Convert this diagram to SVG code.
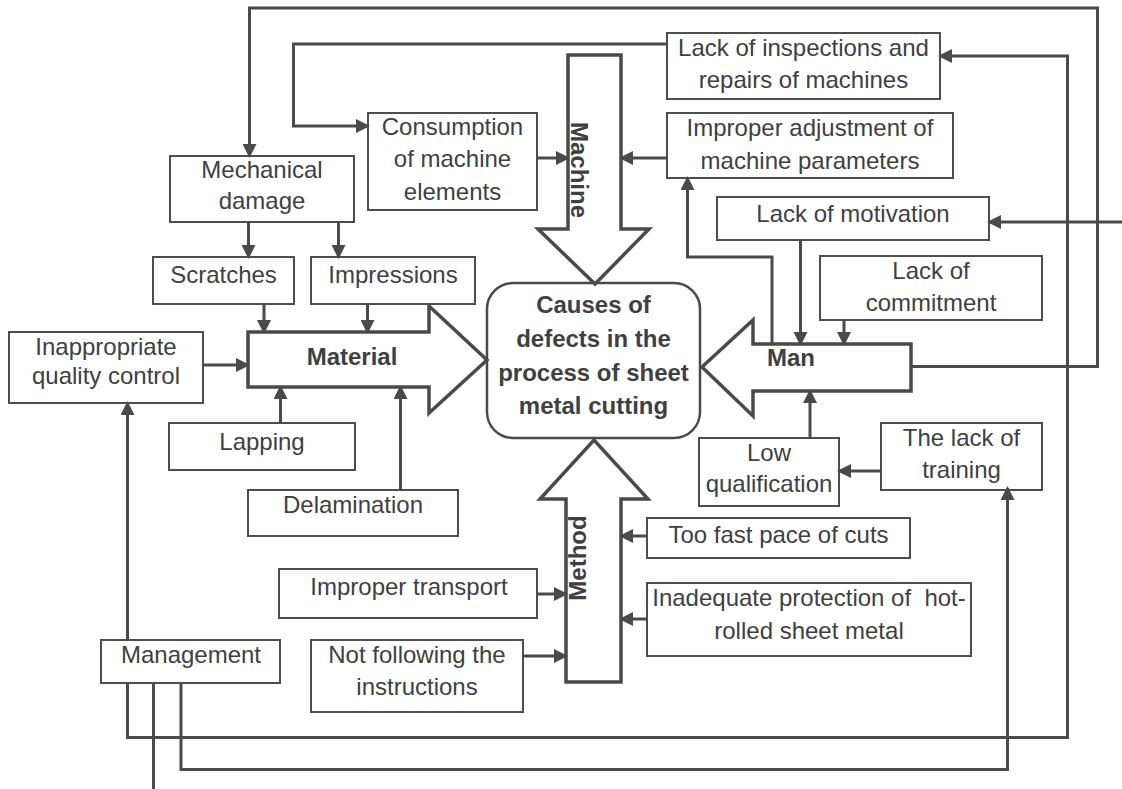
<svg xmlns="http://www.w3.org/2000/svg" width="1122" height="789" viewBox="0 0 1122 789">
<style>
.box{fill:#fff;stroke:#4d4d4d;stroke-width:2}
.big{fill:#fff;stroke:#4a4a4a;stroke-width:3.5;stroke-linejoin:miter}
.t{font-family:"Liberation Sans",Arial,sans-serif;font-size:24px;fill:#404040;text-anchor:middle}
.b{font-weight:bold}
.c{fill:none;stroke:#4a4a4a;stroke-width:3}
.ca{fill:none;stroke:#4a4a4a;stroke-width:3;marker-end:url(#ah)}
</style>
<defs>
<marker id="ah" viewBox="0 0 14 14" refX="12" refY="7" markerWidth="14" markerHeight="14" markerUnits="userSpaceOnUse" orient="auto"><path d="M0,0 L14,7 L0,14 z" fill="#4a4a4a"/></marker>
</defs>
<rect width="1122" height="789" fill="#fff"/>

<g id="center">
<rect x="487" y="283" width="213" height="155" rx="26" fill="#fff" stroke="#4a4a4a" stroke-width="2.5"/>
<text class="t b" x="593.5" y="313">Causes of</text>
<text class="t b" x="593.5" y="347">defects in the</text>
<text class="t b" x="593.5" y="380.5">process of sheet</text>
<text class="t b" x="593.5" y="414">metal cutting</text>
</g>

<g id="machine">
<polygon class="big" points="568,55 621,55 621,229 649,229 595,284 538,229 568,229"/>
<text class="t b" transform="translate(571,170) rotate(90)">Machine</text>
</g>
<g id="material">
<polygon class="big" points="248,332 429,332 429,306 487,360 429,413 429,387 248,387"/>
<text class="t b" x="352" y="365">Material</text>
</g>
<g id="man">
<polygon class="big" points="911,344 753,344 753,320 702,367 753,416 753,391 911,391"/>
<text class="t b" x="791" y="366">Man</text>
</g>
<g id="method">
<polygon class="big" points="566,682 566,499 540,499 594,440 648,499 621,499 621,682"/>
<text class="t b" transform="translate(586,558) rotate(-90)">Method</text>
</g>

<g id="lack-inspections">
<rect class="box" x="667" y="33" width="273" height="66"/>
<text class="t" x="803.5" y="56">Lack of inspections and</text>
<text class="t" x="803.5" y="88">repairs of machines</text>
</g>
<g id="improper-adjustment">
<rect class="box" x="667" y="113" width="286" height="65"/>
<text class="t" x="810" y="136">Improper adjustment of</text>
<text class="t" x="810" y="169">machine parameters</text>
</g>
<g id="consumption">
<rect class="box" x="368" y="113" width="169" height="97"/>
<text class="t" x="452.5" y="135">Consumption</text>
<text class="t" x="452.5" y="167">of machine</text>
<text class="t" x="452.5" y="200">elements</text>
</g>
<g id="mechanical-damage">
<rect class="box" x="170" y="156" width="184" height="66"/>
<text class="t" x="262" y="178">Mechanical</text>
<text class="t" x="262" y="209">damage</text>
</g>
<g id="scratches">
<rect class="box" x="153" y="257" width="141" height="47"/>
<text class="t" x="223.5" y="283">Scratches</text>
</g>
<g id="impressions">
<rect class="box" x="311" y="257" width="164" height="47"/>
<text class="t" x="393" y="283">Impressions</text>
</g>
<g id="quality-control">
<rect class="box" x="9" y="332" width="194" height="71"/>
<text class="t" x="106" y="355">Inappropriate</text>
<text class="t" x="106" y="384">quality control</text>
</g>
<g id="lapping">
<rect class="box" x="169" y="423" width="186" height="47"/>
<text class="t" x="262" y="450">Lapping</text>
</g>
<g id="delamination">
<rect class="box" x="248" y="490" width="210" height="46"/>
<text class="t" x="353" y="513">Delamination</text>
</g>
<g id="lack-motivation">
<rect class="box" x="717" y="197" width="272" height="43"/>
<text class="t" x="853" y="222">Lack of motivation</text>
</g>
<g id="lack-commitment">
<rect class="box" x="820" y="256" width="222" height="64"/>
<text class="t" x="931" y="279">Lack of</text>
<text class="t" x="931" y="311">commitment</text>
</g>
<g id="low-qualification">
<rect class="box" x="699" y="438" width="140" height="68"/>
<text class="t" x="769" y="461">Low</text>
<text class="t" x="769" y="492">qualification</text>
</g>
<g id="lack-training">
<rect class="box" x="881" y="423" width="161" height="67"/>
<text class="t" x="961.5" y="446">The lack of</text>
<text class="t" x="961.5" y="478">training</text>
</g>
<g id="too-fast">
<rect class="box" x="647" y="518" width="263" height="40"/>
<text class="t" x="778.5" y="543">Too fast pace of cuts</text>
</g>
<g id="inadequate-protection">
<rect class="box" x="647" y="583" width="324" height="73"/>
<text class="t" x="809" y="606" xml:space="preserve">Inadequate protection of  hot-</text>
<text class="t" x="809" y="639">rolled sheet metal</text>
</g>
<g id="improper-transport">
<rect class="box" x="279" y="569" width="258" height="49"/>
<text class="t" x="409" y="595">Improper transport</text>
</g>
<g id="not-following">
<rect class="box" x="311" y="640" width="212" height="72"/>
<text class="t" x="417" y="663">Not following the</text>
<text class="t" x="417" y="695">instructions</text>
</g>
<g id="management">
<rect class="box" x="101" y="640" width="179" height="43"/>
<text class="t" x="191" y="663">Management</text>
</g>

<g id="connectors">
<path class="ca" d="M911,366.5 H1097.5 V8 H249.5 V156"/>
<path class="ca" d="M667,44 H293.5 V126 H368"/>
<path class="ca" d="M537,158 H568"/>
<path class="ca" d="M667,158 H621"/>
<path class="ca" d="M772,344 V257 H687.5 V178"/>
<path class="ca" d="M800.5,240 V344"/>
<path class="ca" d="M844,320 V344"/>
<path class="ca" d="M810,438 V391"/>
<path class="ca" d="M881,471 H839"/>
<path class="ca" d="M181,683 V769.5 H1007.5 V488"/>
<path class="ca" d="M127.5,683 V737.5 H1067.5 V56 H940"/>
<path class="ca" d="M127.5,640 V403"/>
<path class="ca" d="M1122,222 H989"/>
<path class="c" d="M153.5,682 V789"/>
<path class="ca" d="M248.5,222 V257"/>
<path class="ca" d="M338.5,222 V257"/>
<path class="ca" d="M264,304 V332"/>
<path class="ca" d="M367.5,304 V332"/>
<path class="ca" d="M203,365 H248"/>
<path class="ca" d="M280.5,423 V387"/>
<path class="ca" d="M400.5,490 V387"/>
<path class="ca" d="M537,594 H566"/>
<path class="ca" d="M523,656 H566"/>
<path class="ca" d="M647,536 H621"/>
<path class="ca" d="M647,619 H621"/>
</g>
</svg>
